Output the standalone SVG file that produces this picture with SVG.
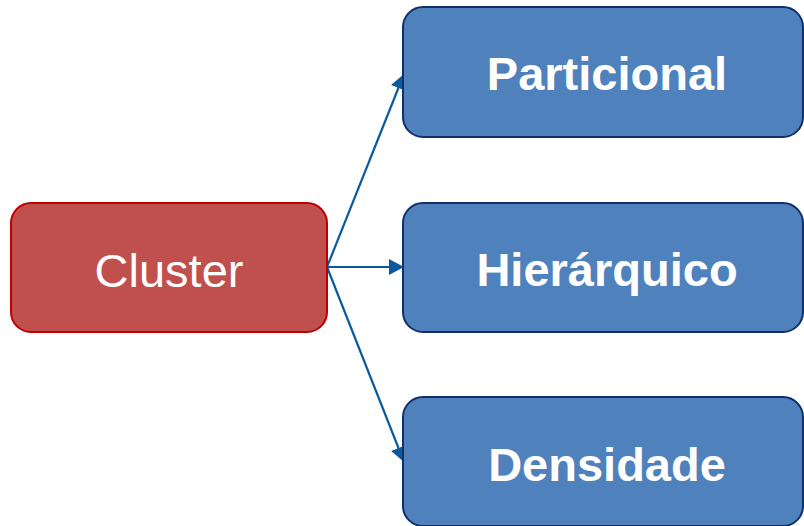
<svg xmlns="http://www.w3.org/2000/svg" width="804" height="526" viewBox="0 0 804 526">
<style>
.red{fill:#C0504D;stroke:#C00000;stroke-width:2}
.blue{fill:#4F81BD;stroke:#10306A;stroke-width:2}
.t{font-family:"Liberation Sans",Arial,sans-serif;font-size:47px;fill:#fff;text-anchor:middle}
.b{font-weight:bold}
.c{stroke:#0B5A9C;stroke-width:2.2;fill:none}
</style>
<defs>
<marker id="ah" markerWidth="16" markerHeight="16" refX="15" refY="8" orient="auto" markerUnits="userSpaceOnUse">
<path d="M0,0 L15,8 L0,16 Z" fill="#0B5A9C"/>
</marker>
</defs>
<g id="connectors">
<line class="c" x1="327" y1="267" x2="404" y2="74" marker-end="url(#ah)"/>
<line class="c" x1="327" y1="267" x2="404" y2="267" marker-end="url(#ah)"/>
<line class="c" x1="327" y1="267" x2="404" y2="462" marker-end="url(#ah)"/>
</g>
<g id="cluster">
<rect class="red" x="11" y="203" width="316" height="129" rx="20"/>
<text class="t" x="169" y="287">Cluster</text>
</g>
<g id="particional">
<rect class="blue" x="403" y="7" width="400" height="130" rx="20"/>
<text class="t b" x="607" y="90">Particional</text>
</g>
<g id="hierarquico">
<rect class="blue" x="403" y="203" width="400" height="129" rx="20"/>
<text class="t b" x="607" y="286">Hierárquico</text>
</g>
<g id="densidade">
<rect class="blue" x="403" y="397" width="400" height="129" rx="20"/>
<text class="t b" x="607" y="481">Densidade</text>
</g>
</svg>
